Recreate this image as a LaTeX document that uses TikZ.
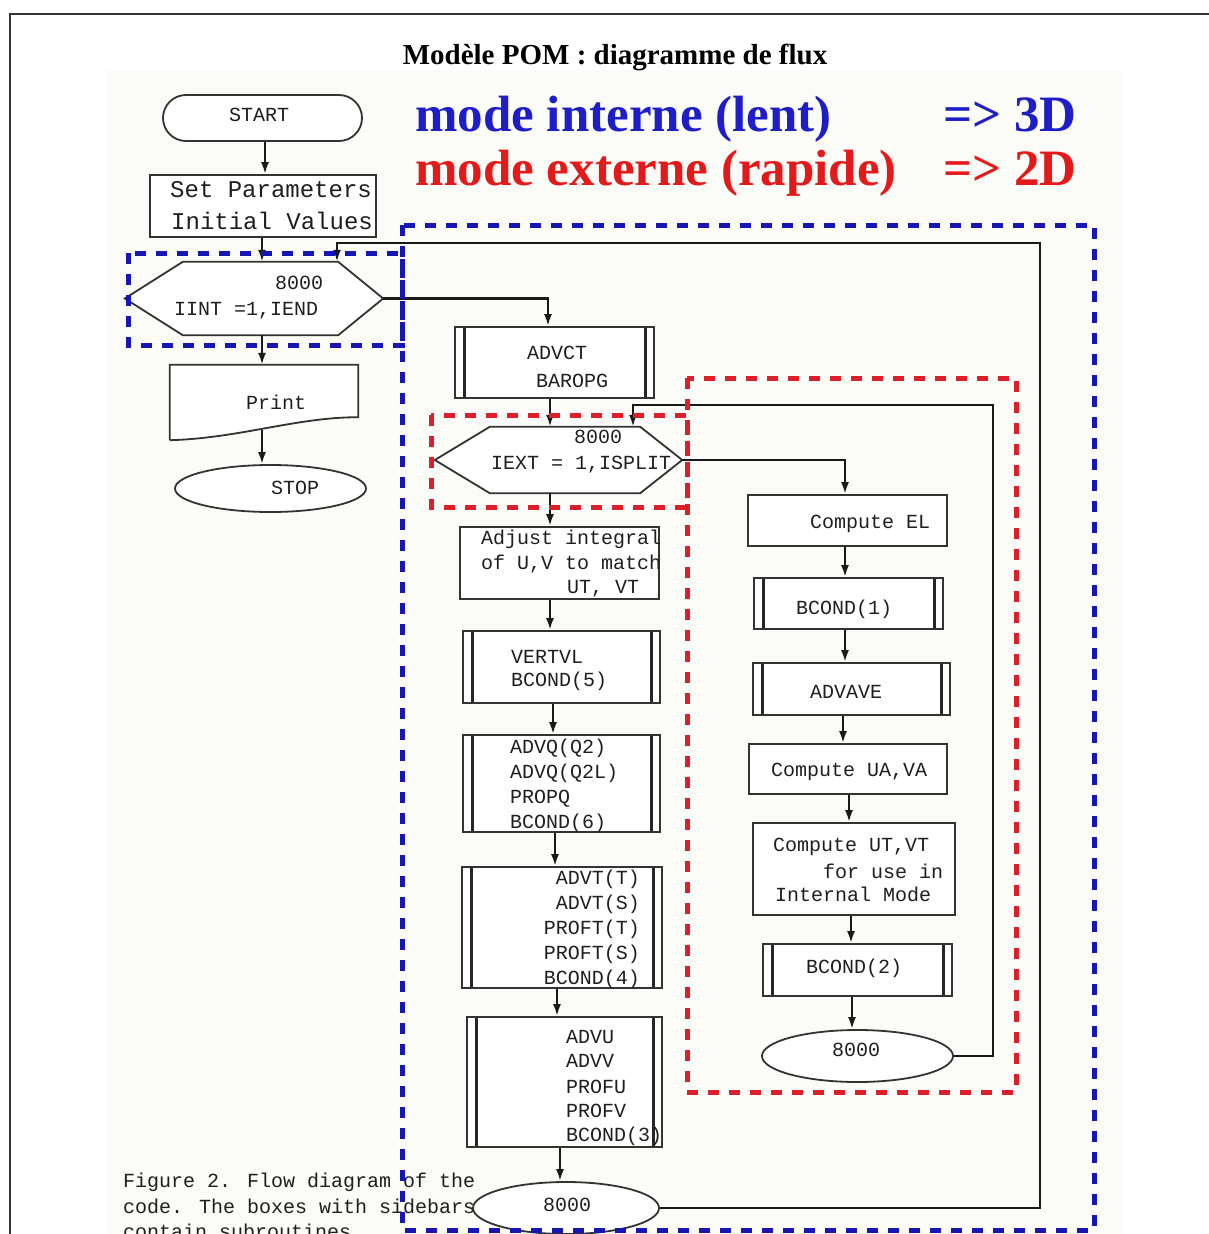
\documentclass[tikz,border=0pt]{standalone}
\usepackage{fontspec}
\setmainfont{Liberation Serif}
\newfontfamily\monof{Liberation Mono}
\usetikzlibrary{arrows.meta,calc,shapes.geometric}
\definecolor{dblue}{RGB}{22,22,180}
\definecolor{dred}{RGB}{222,30,40}
\definecolor{tblue}{RGB}{30,30,200}
\definecolor{tred}{RGB}{228,26,26}
\definecolor{paper}{RGB}{251,251,247}
\begin{document}
\begin{tikzpicture}[x=1pt,y=-1pt,
  box/.style={draw=black!80,line width=1.8pt,fill=white,inner sep=0pt},
  sub/.style={box,path picture={
     \draw[line width=3pt,black!85] ([xshift=9pt]path picture bounding box.north west) -- ([xshift=9pt]path picture bounding box.south west);
     \draw[line width=3pt,black!85] ([xshift=-9pt]path picture bounding box.north east) -- ([xshift=-9pt]path picture bounding box.south east);}},
  ell/.style={ellipse,draw=black!80,line width=1.8pt,fill=white,inner sep=0pt},
  hold/.style={draw=none,inner sep=0pt},
  shapeline/.style={draw=black!80,line width=1.8pt,fill=white},
  tx/.style={font=\monof\fontsize{20}{22}\selectfont,inner sep=0pt,anchor=base west,text=black!88},
  txr/.style={tx,anchor=base east},
  line/.style={draw=black!90,line width=2.2pt},
  arr/.style={line,-{Latex[length=12pt,width=8pt]}},
  bluedash/.style={draw=dblue,line width=5pt,dash pattern=on 11pt off 10pt},
  reddash/.style={draw=dred,line width=5pt,dash pattern=on 11pt off 10pt},
  big/.style={font=\fontsize{51}{56}\selectfont\bfseries,inner sep=0pt,anchor=base west}]
\useasboundingbox (0,0) rectangle (1208,1234);
% background of pasted figure
\fill[paper] (107,70) rectangle (1122,1234);
% outer frame
\draw[line width=2pt,black!80] (10,1240) -- (10,14) -- (1215,14);
% title
\node[font=\fontsize{29}{32}\selectfont\bfseries,inner sep=0pt,anchor=base] (title) at (615,64) {Modèle POM : diagramme de flux};
\node[big,text=tblue] (m1) at (415,131) {mode interne (lent)};
\node[big,text=tblue] (m1b) at (943,131) {=> 3D};
\node[big,text=tred] (m2) at (415,185) {mode externe (rapide)};
\node[big,text=tred] (m2b) at (943,185) {=> 2D};
% caption
\node[tx] (c1) at (123,1187) {Figure 2. Flow diagram of the};
\node[tx] (c2) at (123,1213) {code. The boxes with sidebars};
\node[tx] (c3) at (123,1238) {contain subroutines.};

% ---------- left column
\node[box,rounded corners=23pt,minimum width=199pt,minimum height=46pt] (start) at (262.5,118) {};
\node[tx] (tstart) at (229,121) {START};
\node[box,minimum width=226pt,minimum height=62pt] (setp) at (263,206) {};
\node[tx,font=\monof\fontsize{24}{26}\selectfont] (tsp1) at (170,197) {Set Parameters};
\node[tx,font=\monof\fontsize{24}{26}\selectfont] (tsp2) at (171,229) {Initial Values};

\node[hold,minimum width=258pt,minimum height=73pt] (hex1) at (254,298.5) {};
\draw[shapeline] (hex1.west) -- ([xshift=58pt]hex1.north west) -- ([xshift=-45pt]hex1.north east) -- (hex1.east) -- ([xshift=-45pt]hex1.south east) -- ([xshift=58pt]hex1.south west) -- cycle;
\node[tx] (th1a) at (275,289) {8000};
\node[tx] (th1b) at (174,315) {IINT =1,IEND};

\node[hold,minimum width=188pt,minimum height=75pt] (print) at (264,402.5) {};
\draw[shapeline] (print.south west) -- (print.north west) -- (print.north east) -- ([yshift=23pt]print.south east)
   .. controls ([xshift=-62pt,yshift=23pt]print.south east) and ([xshift=70pt,yshift=2pt]print.south west) .. (print.south west);
\node[tx] (tprint) at (246,409) {Print};
\node[ell,minimum width=191pt,minimum height=47pt] (stop) at (270.5,488.5) {};
\node[tx] (tstop) at (271,494) {STOP};

% ---------- middle column
\node[sub,minimum width=199pt,minimum height=71pt] (advct) at (554.5,362.5) {};
\node[tx] (ta1) at (527,359) {ADVCT};
\node[tx] (ta2) at (536,387) {BAROPG};

\node[hold,minimum width=247pt,minimum height=66pt] (hex2) at (558.5,460) {};
\draw[shapeline] (hex2.west) -- ([xshift=55pt]hex2.north west) -- ([xshift=-42pt]hex2.north east) -- (hex2.east) -- ([xshift=-42pt]hex2.south east) -- ([xshift=55pt]hex2.south west) -- cycle;
\node[tx] (th2a) at (574,443) {8000};
\node[tx] (th2b) at (491,469) {IEXT = 1,ISPLIT};

\node[box,minimum width=199pt,minimum height=72pt] (adjust) at (559.5,563) {};
\node[tx] (tad1) at (481,544) {Adjust integral};
\node[tx] (tad2) at (481,569) {of U,V to match};
\node[tx] (tad3) at (567,593) {UT, VT};

\node[sub,minimum width=197pt,minimum height=72pt] (vertvl) at (561.5,667) {};
\node[tx] (tv1) at (511,663) {VERTVL};
\node[tx] (tv2) at (511,686) {BCOND(5)};

\node[sub,minimum width=197pt,minimum height=97pt] (advq) at (561.5,783.5) {};
\node[tx] (tq1) at (510,753) {ADVQ(Q2)};
\node[tx] (tq2) at (510,778) {ADVQ(Q2L)};
\node[tx] (tq3) at (510,803) {PROPQ};
\node[tx] (tq4) at (510,828) {BCOND(6)};

\node[sub,minimum width=200pt,minimum height=121pt] (advt) at (562,927.5) {};
\node[txr] (tt1) at (640,884) {ADVT(T)};
\node[txr] (tt2) at (640,909) {ADVT(S)};
\node[txr] (tt3) at (640,934) {PROFT(T)};
\node[txr] (tt4) at (640,959) {PROFT(S)};
\node[txr] (tt5) at (640,984) {BCOND(4)};

\node[sub,minimum width=195pt,minimum height=130pt] (advu) at (564.5,1082) {};
\node[tx] (tu1) at (566,1043) {ADVU};
\node[tx] (tu2) at (566,1067) {ADVV};
\node[tx] (tu3) at (566,1093) {PROFU};
\node[tx] (tu4) at (566,1117) {PROFV};
\node[tx] (tu5) at (566,1141) {BCOND(3)};

\node[ell,minimum width=186pt,minimum height=52pt] (e1) at (566,1208) {};
\node[tx] (te1) at (543,1211) {8000};

% ---------- right column
\node[box,minimum width=199pt,minimum height=51pt] (cel) at (847.5,520.5) {};
\node[tx] (tcel) at (810,528) {Compute EL};
\node[sub,minimum width=189pt,minimum height=51pt] (bc1) at (848.5,603.5) {};
\node[tx] (tbc1) at (796,614) {BCOND(1)};
\node[sub,minimum width=197pt,minimum height=52pt] (adv) at (851.5,689) {};
\node[tx] (tadv) at (810,698) {ADVAVE};
\node[box,minimum width=198pt,minimum height=50pt] (cua) at (848,769) {};
\node[tx] (tcua) at (771,776) {Compute UA,VA};
\node[box,minimum width=202pt,minimum height=92pt] (cut) at (854,869) {};
\node[tx] (tcu1) at (773,851) {Compute UT,VT};
\node[tx] (tcu2) at (823,878) {for use in};
\node[tx] (tcu3) at (775,901) {Internal Mode};
\node[sub,minimum width=189pt,minimum height=52pt] (bc2) at (857.5,970) {};
\node[tx] (tbc2) at (806,973) {BCOND(2)};
\node[ell,minimum width=191pt,minimum height=52pt] (e2) at (857.5,1056) {};
\node[tx] (te2) at (832,1056) {8000};

% ---------- connectors
\draw[arr] (start.south -| 265,0) -- (setp.north -| 265,0);
\draw[arr] (setp.south -| 262,0) -- (hex1.north -| 262,0);
\draw[arr] (hex1.south -| 262,0) -- (print.north -| 262,0);
\draw[arr] ($(print.south)+(-2,-10)$) -- (stop.north -| 262,0);
\draw[arr] (hex1.east) -| (advct.north -| 548,0);
\draw[arr] (advct.south -| 550,0) -- (hex2.north -| 550,0);
\draw[arr] (hex2.south -| 550,0) -- (adjust.north -| 550,0);
\draw[arr] (adjust.south -| 550,0) -- (vertvl.north -| 550,0);
\draw[arr] (vertvl.south -| 553,0) -- (advq.north -| 553,0);
\draw[arr] (advq.south -| 555,0) -- (advt.north -| 555,0);
\draw[arr] (advt.south -| 557,0) -- (advu.north -| 557,0);
\draw[arr] (advu.south -| 560,0) -- (e1.north -| 560,0);
\draw[arr] (hex2.east) -| (cel.north -| 845,0);
\draw[arr] (cel.south -| 845,0) -- (bc1.north -| 845,0);
\draw[arr] (bc1.south -| 845,0) -- (adv.north -| 845,0);
\draw[arr] (adv.south -| 843,0) -- (cua.north -| 843,0);
\draw[arr] (cua.south -| 849,0) -- (cut.north -| 849,0);
\draw[arr] (cut.south -| 851,0) -- (bc2.north -| 851,0);
\draw[arr] (bc2.south -| 852,0) -- (e2.north -| 852,0);
\coordinate (loopA) at (1040,243);
\coordinate (loopB) at (993,405);
\draw[arr] (e1.east) -| (loopA) -| (hex1.north -| 337,0);
\draw[arr] (e2.east) -| (loopB) -| (hex2.north -| 633,0);

% ---------- dashed regions
\draw[bluedash] (128,253) rectangle (402,345);
\draw[bluedash] (402,225) rectangle (1094,1230);
\draw[reddash] (431,415) rectangle (687,507);
\draw[reddash] (687,378) rectangle (1016,1092);
\end{tikzpicture}
\end{document}
